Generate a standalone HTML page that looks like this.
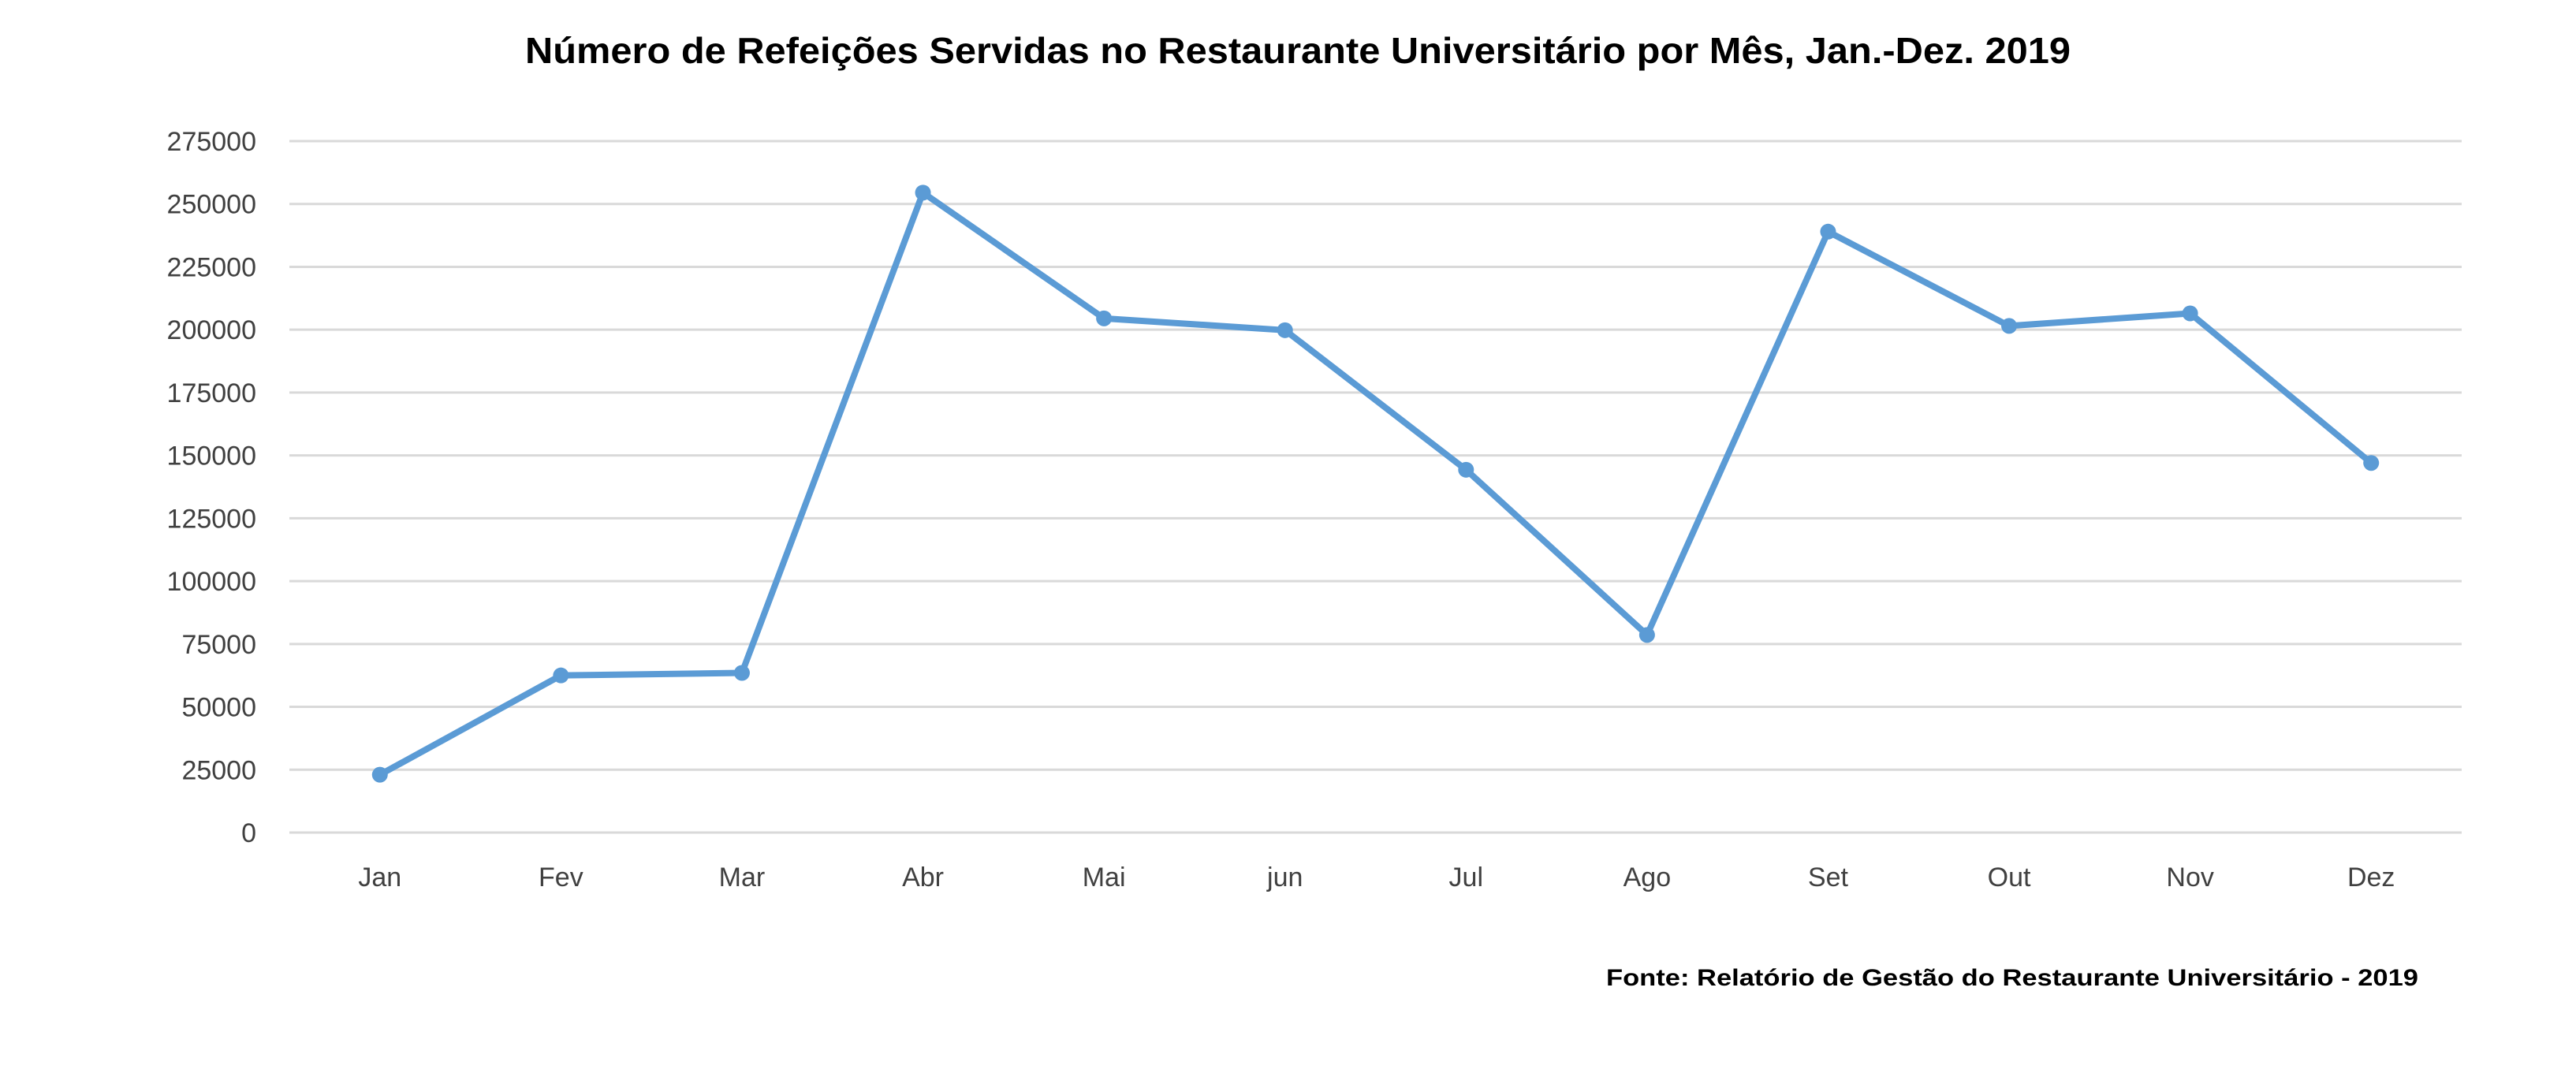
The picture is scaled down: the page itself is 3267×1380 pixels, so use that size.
<!DOCTYPE html>
<html><head><meta charset="utf-8"><style>
html,body{margin:0;padding:0;background:#fff;}
svg{display:block;}
</style></head><body>
<svg id="chart" width="3267" height="1380" xmlns="http://www.w3.org/2000/svg" font-family="'Liberation Sans', sans-serif">
<rect x="0" y="0" width="3267" height="1380" fill="#fff"/>
<text x="1646" y="80" text-anchor="middle" font-size="46" font-weight="bold" fill="#000" textLength="1960" lengthAdjust="spacingAndGlyphs">Número de Refeições Servidas no Restaurante Universitário por Mês, Jan.-Dez. 2019</text>
<g id="grid"></g>
<g id="yaxis"></g>
<g id="xaxis"></g>
<g id="series"></g>
<text x="3067" y="1250" text-anchor="end" font-size="30" font-weight="bold" fill="#000" textLength="1030" lengthAdjust="spacingAndGlyphs">Fonte: Relatório de Gestão do Restaurante Universitário - 2019</text>
</svg>
<script>
const categories = ["Jan","Fev","Mar","Abr","Mai","jun","Jul","Ago","Set","Out","Nov","Dez"];
const values = [23000,62500,63500,254500,204500,199800,144300,78600,239000,201500,206500,147000];
const yTicks = [0,25000,50000,75000,100000,125000,150000,175000,200000,225000,250000,275000];

const NS="http://www.w3.org/2000/svg";
const plotLeft=367, plotRight=3122, plotTop=179, plotBottom=1056, yMax=275000;
const band=(plotRight-plotLeft)/categories.length;
const xPos=i=>plotLeft+band*(i+0.5);
const yPos=v=>plotBottom-(v/yMax)*(plotBottom-plotTop);
function mk(tag,attrs,parent){const e=document.createElementNS(NS,tag);for(const k in attrs)e.setAttribute(k,attrs[k]);parent.appendChild(e);return e;}
const grid=document.getElementById('grid'), ya=document.getElementById('yaxis'), xa=document.getElementById('xaxis'), se=document.getElementById('series');
yTicks.forEach(t=>{
  const l=mk('line',{x1:plotLeft,x2:plotRight,y1:yPos(t),y2:yPos(t),stroke:'#d9d9d9','stroke-width':3},grid);
  
  
  const tx=mk('text',{x:325,y:yPos(t)+12,'text-anchor':'end','font-size':34,fill:'#404040'},ya);
  tx.textContent=t;
  
  
});
categories.forEach((c,i)=>{
  const tx=mk('text',{x:xPos(i),y:1124,'text-anchor':'middle','font-size':34,fill:'#404040'},xa);
  tx.textContent=c;
  
  
});
const pts=values.map((v,i)=>xPos(i)+','+yPos(v)).join(' ');
const pl=mk('polyline',{points:pts,fill:'none',stroke:'#5b9bd5','stroke-width':8,'stroke-linejoin':'round','stroke-linecap':'round'},se);


values.forEach((v,i)=>{
  const c=mk('circle',{cx:xPos(i),cy:yPos(v),r:10,fill:'#5b9bd5'},se);
  
  
});
</script>
</body></html>
